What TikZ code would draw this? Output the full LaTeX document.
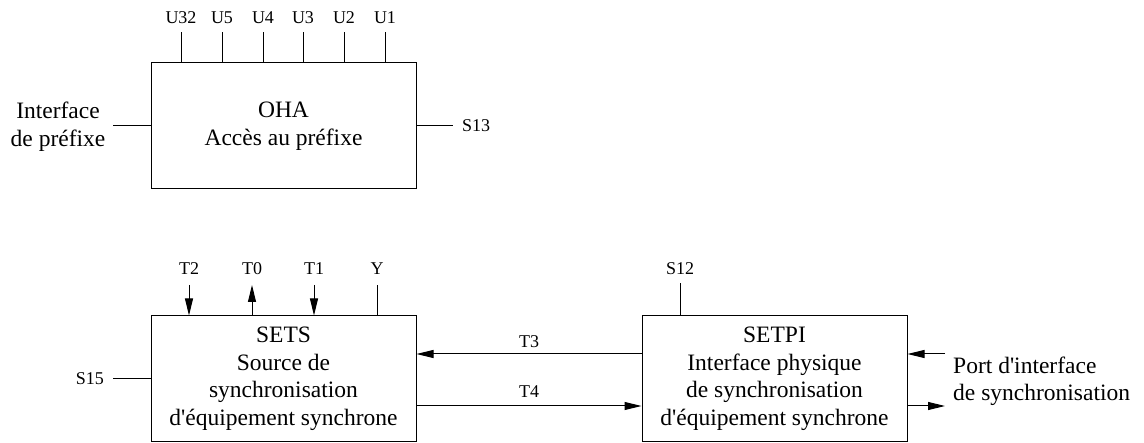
\documentclass[tikz,border=0pt]{standalone}
\usepackage{fontspec}
\setmainfont{Liberation Serif}[Ligatures=TeXOff]
\usetikzlibrary{arrows.meta}
\begin{document}
\begin{tikzpicture}[x=1pt,y=-1pt,
  blk/.style={draw, line width=1pt, minimum width=265pt, minimum height=126pt, inner sep=0pt, align=center, font=\fontsize{23.5}{27.5}\selectfont},
  lab/.style={inner sep=0pt, font=\fontsize{18}{21}\selectfont},
  big/.style={inner sep=0pt, align=center, font=\fontsize{23.5}{27.5}\selectfont},
  wire/.style={line width=1pt},
  arr/.style={wire, -{Triangle[length=17pt,width=8pt]}}]
\useasboundingbox (0,0) rectangle (1144,443);
% boxes
\node[blk] (oha) at (283.5,126) {OHA\\Accès au préfixe};
\node[blk] (sets) at (283.5,379) {SETS\\Source de\\synchronisation\\d'équipement synchrone};
\node[blk] (setpi) at (774.5,379) {SETPI\\Interface physique\\de synchronisation\\d'équipement synchrone};
% OHA top signals
\foreach \n/\x in {U32/181,U5/222,U4/263,U3/303,U2/344,U1/385}{
  \coordinate (c\n) at (\x,32);
  \node[lab, anchor=base] (l\n) at (\x,24) {\n};
  \draw[wire] (oha.north -| c\n) -- (c\n);
}
% OHA sides
\coordinate (ohaL) at (113,126);
\coordinate (ohaR) at (453,126);
\node[big] (ipref) at (58,126.5) {Interface\\de préfixe};
\draw[wire] (oha.west) -- (ohaL);
\draw[wire] (oha.east) -- (ohaR);
\node[lab, anchor=base west] (s13) at (462,132) {S13};
% SETS top
\foreach \n/\x in {T2/189,T0/252,T1/314,Y/377}{
  \coordinate (c\n) at (\x,285);
  \node[lab, anchor=base] (l\n) at (\x,275) {\n};
}
\draw[arr] (cT2) -- (sets.north -| cT2);
\draw[arr] (sets.north -| cT0) -- (cT0);
\draw[arr] (cT1) -- (sets.north -| cT1);
\draw[wire] (sets.north -| cY) -- (cY);
% SETS left
\coordinate (s15e) at (113,379);
\draw[wire] (sets.west) -- (s15e);
\node[lab, anchor=base east] (s15) at (104,385) {S15};
% SETPI top
\coordinate (s12e) at (680,283);
\draw[wire] (setpi.north -| s12e) -- (s12e);
\node[lab, anchor=base] (s12) at (680,275) {S12};
% T3 / T4
\coordinate (y3) at (0,354);
\coordinate (y4) at (0,406);
\draw[arr] (setpi.west |- y3) -- (sets.east |- y3) node[lab, midway, above=6pt] (t3) {T3};
\draw[arr] (sets.east |- y4) -- (setpi.west |- y4) node[lab, midway, above=8pt] (t4) {T4};
% right side
\coordinate (pin) at (945,354);
\coordinate (pout) at (945,406);
\draw[arr] (pin) -- (setpi.east |- pin);
\draw[arr] (setpi.east |- pout) -- (pout);
\node[big, align=left, anchor=west] (port) at (953,381.5) {Port d'interface\\de synchronisation};
\end{tikzpicture}
\end{document}
